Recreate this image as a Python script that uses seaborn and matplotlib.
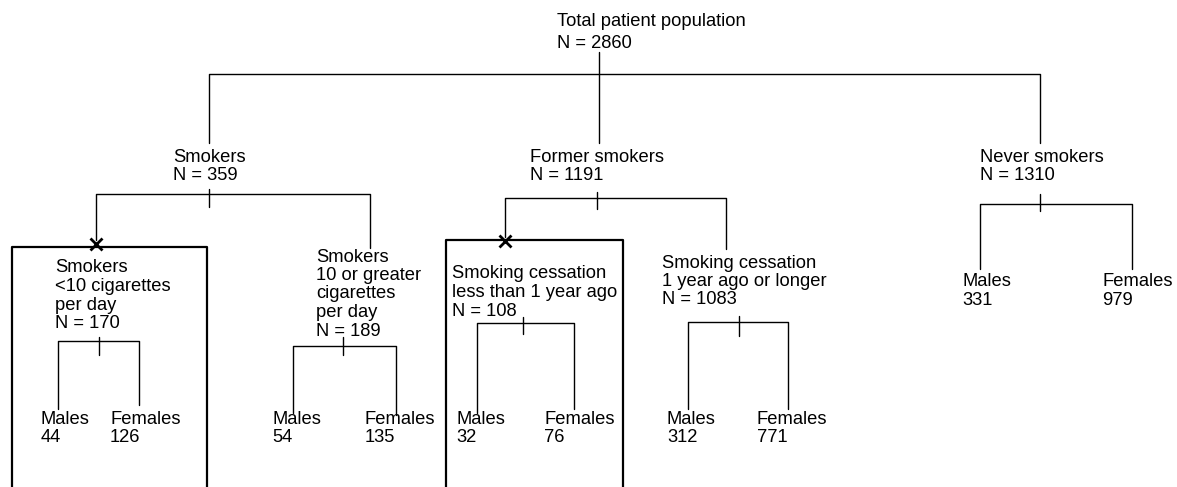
import matplotlib
matplotlib.use("Agg")
import matplotlib.pyplot as plt
import seaborn as sns

# Tree values
total_label = "Total patient population"
total_n = 2860

groups = ["Smokers", "Former smokers", "Never smokers"]
group_n = [359, 1191, 1310]

sub_labels = [
    ["Smokers", "<10 cigarettes", "per day"],
    ["Smokers", "10 or greater", "cigarettes", "per day"],
    ["Smoking cessation", "less than 1 year ago"],
    ["Smoking cessation", "1 year ago or longer"],
]
sub_n = [170, 189, 108, 1083]
excluded = [True, False, True, False]

# leaves: 4 subgroups + never smokers
males = [44, 54, 32, 312, 331]
females = [126, 135, 76, 771, 979]

# Layout (pixel coordinates, y grows down)
W, H = 1177, 487
LS = 18.5  # line spacing
group_x = [173, 530, 980]
group_y = 157
group_drop = [209, 599, 1040]
# (left x, right x, y, tick x, tick top, tick bottom, left bottom, right bottom)
group_br = [
    (96, 370, 194, 209, 189, 207, 240, 248),
    (505, 726, 198, 597, 192, 209, 237, 249),
    (980, 1132, 204, 1040, 194, 211, 269, 269),
]
sub_x = [55, 316, 452, 662]
sub_y = [268, 257, 274, 263]
sub_br = [
    (58, 139, 341, 99, 337, 355, 409, 405),
    (293, 396, 346, 343, 337, 355, 413, 415),
    (477, 574, 323, 523, 317, 334, 413, 409),
    (688, 788, 322, 739, 316, 336, 409, 409),
]
leaf_x = [(41, 110), (272, 365), (456, 544), (667, 757), (962, 1102)]
leaf_y = [419, 419, 419, 419, 282]
boxes = [(12, 207, 247), (446, 623, 240)]

sns.set_style("white")
plt.rcParams["font.family"] = ["Liberation Sans", "DejaVu Sans"]

fig = plt.figure(figsize=(W / 100, H / 100), dpi=100)
ax = fig.add_axes([0, 0, 1, 1])
ax.set_xlim(0, W)
ax.set_ylim(H, 0)
ax.axis("off")

FS = 13.2
LW = 1.0
col = "#000000"


def lines_at(x, y, rows):
    for i, r in enumerate(rows):
        ax.text(x, y + i * LS, r, fontsize=FS, ha="left", va="center", color=col)


def bracket(b):
    xl, xr, y, tx, tt, tb, lb, rb = b
    ax.plot([xl, xl, xr, xr], [lb, y, y, rb], color=col, lw=LW)
    ax.plot([tx, tx], [tt, tb], color=col, lw=LW)


# root
ax.text(557, 21, total_label, fontsize=FS, ha="left", va="center", color=col)
ax.text(557, 43, f"N = {total_n}", fontsize=FS, ha="left", va="center", color=col)
ax.plot([599, 599], [52, 143], color=col, lw=LW)
ax.plot([group_drop[0], group_drop[0], group_drop[2], group_drop[2]],
        [143, 74, 74, 143], color=col, lw=LW)

# first level
for i, g in enumerate(groups):
    lines_at(group_x[i], group_y, [g, f"N = {group_n[i]}"])
    bracket(group_br[i])

# second level
for i, rows in enumerate(sub_labels):
    lines_at(sub_x[i], sub_y[i], rows + [f"N = {sub_n[i]}"])
    bracket(sub_br[i])

# leaves
for i in range(len(males)):
    lines_at(leaf_x[i][0], leaf_y[i], ["Males", str(males[i])])
    lines_at(leaf_x[i][1], leaf_y[i], ["Females", str(females[i])])

# excluded subgroups: open box + X marker
for x0, x1, yt in boxes:
    ax.plot([x0, x0, x1, x1], [H + 5, yt, yt, H + 5], color=col, lw=1.6)
for b in group_br[:2]:
    ax.plot(b[0], b[6] + 4, marker="x", ms=8, mew=2, color=col)

fig.savefig("out.png", dpi=100)
